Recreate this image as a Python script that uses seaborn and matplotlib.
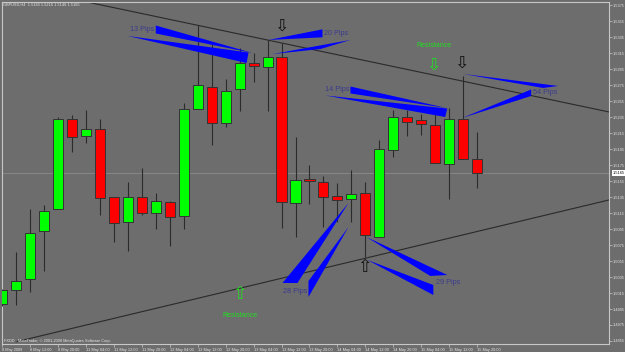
import matplotlib
matplotlib.use("Agg")
import matplotlib.pyplot as plt
import seaborn as sns
import numpy as np
import pandas as pd

# ---------------- data ----------------
opens = [1.5001, 1.5019, 1.5032, 1.5092, 1.5120, 1.5232, 1.5211, 1.5220, 1.5135, 1.5104,
         1.5135, 1.5115, 1.5129, 1.5111, 1.5245, 1.5273, 1.5227, 1.5270, 1.5302, 1.5297,
         1.5310, 1.5128, 1.5157, 1.5154, 1.5136, 1.5132, 1.5140, 1.5085, 1.5194, 1.5235,
         1.5231, 1.5225, 1.5176, 1.5233, 1.5183]
highs = [1.5020, 1.5066, 1.5120, 1.5125, 1.5235, 1.5237, 1.5244, 1.5233, 1.5135, 1.5154,
         1.5171, 1.5140, 1.5130, 1.5252, 1.5350, 1.5328, 1.5283, 1.5321, 1.5315, 1.5331,
         1.5328, 1.5210, 1.5175, 1.5161, 1.5153, 1.5169, 1.5154, 1.5206, 1.5244, 1.5244,
         1.5239, 1.5242, 1.5246, 1.5286, 1.5216]
lows = [1.4999, 1.5000, 1.5016, 1.5043, 1.5120, 1.5191, 1.5203, 1.5112, 1.5079, 1.5067,
        1.5113, 1.5095, 1.5074, 1.5095, 1.5245, 1.5200, 1.5223, 1.5243, 1.5279, 1.5242,
        1.5096, 1.5085, 1.5126, 1.5098, 1.5104, 1.5104, 1.5060, 1.5085, 1.5185, 1.5211,
        1.5212, 1.5177, 1.5132, 1.5182, 1.5146]
closes = [1.5019, 1.5030, 1.5090, 1.5118, 1.5233, 1.5210, 1.5220, 1.5134, 1.5103, 1.5135,
          1.5115, 1.5130, 1.5110, 1.5245, 1.5275, 1.5228, 1.5268, 1.5303, 1.5299, 1.5310,
          1.5129, 1.5156, 1.5155, 1.5135, 1.5131, 1.5139, 1.5087, 1.5195, 1.5235, 1.5229,
          1.5226, 1.5177, 1.5232, 1.5182, 1.5165]

time_labels = ["8 May 2009", "8 May 12:00", "8 May 20:00", "11 May 04:00", "11 May 12:00",
               "11 May 20:00", "12 May 04:00", "12 May 12:00", "12 May 20:00", "13 May 04:00",
               "13 May 12:00", "13 May 20:00", "14 May 04:00", "14 May 12:00", "14 May 20:00",
               "15 May 04:00", "15 May 12:00", "15 May 20:00"]
price_ticks = [1.4955, 1.4975, 1.4995, 1.5015, 1.5035, 1.5055, 1.5075, 1.5095, 1.5115, 1.5135,
               1.5155, 1.5175, 1.5195, 1.5215, 1.5235, 1.5255, 1.5275, 1.5295, 1.5315, 1.5335,
               1.5355, 1.5375]

# trend lines (bar index, price)
upper_line_x = [6.07, 43.43]
upper_line_y = [1.53788, 1.52413]
lower_line_x = [1.0, 43.43]
lower_line_y = [1.4954, 1.51313]

# triangle annotations (bar index, price)
wedges = {
    "13a": [(11.0, 1.53494), (11.0, 1.53394), (17.93, 1.53150)],
    "13b": [(9.0, 1.53363), (17.64, 1.53156), (17.5, 1.53025)],
    "20a": [(19.07, 1.53313), (22.93, 1.53446), (22.93, 1.53346)],
    "20b": [(19.36, 1.53137), (24.93, 1.53313), (22.79, 1.53200)],
    "14a": [(24.93, 1.52731), (24.93, 1.52644), (31.79, 1.52463)],
    "14b": [(23.14, 1.52619), (31.86, 1.52456), (31.71, 1.52350)],
    "54a": [(33.0, 1.52888), (39.79, 1.52738), (38.71, 1.52713)],
    "54b": [(32.93, 1.52338), (37.86, 1.52694), (37.86, 1.52613)],
    "28a": [(24.79, 1.51275), (20.07, 1.50275), (21.14, 1.50275)],
    "28b": [(24.79, 1.50975), (21.93, 1.50300), (21.93, 1.50100)],
    "29a": [(26.07, 1.50850), (31.86, 1.50375), (30.64, 1.50363)],
    "29b": [(26.14, 1.50563), (30.86, 1.50250), (30.86, 1.50125)],
}
pip_labels = ["13 Pips", "20 Pips", "14 Pips", "54 Pips", "28 Pips", "29 Pips"]
pip_x = [10.0, 23.93, 23.96, 38.86, 20.96, 31.89]
pip_y = [1.53450, 1.53400, 1.52688, 1.52659, 1.50175, 1.50279]

arrow_chars = ["\u21e9", "\u21e9", "\u21e7", "\u21e9", "\u21e7"]
arrow_x = [19.96, 32.89, 25.93, 30.89, 16.96]
arrow_y = [1.53494, 1.53031, 1.50469, 1.53006, 1.50138]
arrow_colors = ["#111111", "#111111", "#111111", "#22dd22", "#22dd22"]

resist_x = [30.93, 17.0]
resist_y = [1.53238, 1.49875]

# ---------------- style ----------------
BG = "#6d6d6d"
FG = "#e6e6e6"
sns.set_theme(style="ticks", rc={"axes.facecolor": BG, "figure.facecolor": BG})
plt.rcParams["font.family"] = ["Liberation Sans", "DejaVu Sans"]

fig = plt.figure(figsize=(6.25, 3.52), dpi=100)
ax = fig.add_axes([2 / 625, 8 / 352, 607 / 625, 342 / 352])
ax.set_facecolor(BG)

df = pd.DataFrame({"o": opens, "h": highs, "l": lows, "c": closes})
df["i"] = np.arange(len(df))
up = df["c"] >= df["o"]

# current price line
ax.axhline(closes[-1], color="#8c8c8c", lw=0.6, zorder=1)

# trend lines
sns.lineplot(x=upper_line_x, y=upper_line_y, ax=ax, color="#2a2a2a", lw=0.8, zorder=2)
sns.lineplot(x=lower_line_x, y=lower_line_y, ax=ax, color="#2a2a2a", lw=0.8, zorder=2)

# wicks
ax.vlines(df["i"], df["l"], df["h"], color="#2b2b2b", lw=0.8, zorder=3)
# bodies
bottoms = np.minimum(df["o"], df["c"])
heights = np.maximum(np.abs(df["c"] - df["o"]), 0.00008)
ax.bar(df["i"], heights, bottom=bottoms, width=0.72,
       color=np.where(up, "#00ff00", "#ff0000"), edgecolor="#333333", lw=0.7, zorder=4)

# wedges
for pts in wedges.values():
    xs = [p[0] for p in pts]
    ys = [p[1] for p in pts]
    ax.fill(xs, ys, color="#0000ff", lw=0, zorder=5)

for t, x, y in zip(pip_labels, pip_x, pip_y):
    ax.text(x, y, t, color="#3b3b8f", fontsize=5.2, ha="center", va="center", zorder=6)

for ch, x, y, c in zip(arrow_chars, arrow_x, arrow_y, arrow_colors):
    ax.text(x, y, ch, color=c, fontsize=12.5, ha="center", va="center",
            family=["DejaVu Sans"], zorder=6)

for x, y in zip(resist_x, resist_y):
    ax.text(x, y, "Resistance", color="#22dd22", fontsize=5, ha="center", va="center", zorder=6)

# axes
ax.set_xlim(0.07, 43.43)
ax.set_ylim(1.495125, 1.537875)
for s in ax.spines.values():
    s.set_color("#c8c8c8")
    s.set_linewidth(0.8)

ax.yaxis.tick_right()
ax.set_yticks(price_ticks)
ax.set_yticklabels([f"{p:.4f}" for p in price_ticks])
ax.set_xticks(np.arange(0, 2 * len(time_labels), 2))
ax.set_xticklabels(time_labels, ha="left")
ax.tick_params(axis="both", colors="#c8c8c8", labelcolor=FG, labelsize=2.8,
               length=2, width=0.5, pad=1)
ax.set_xlabel("")
ax.set_ylabel("")
ax.grid(False)

# current price tag
ax.text(1.006, closes[-1], f"{closes[-1]:.4f}", transform=ax.get_yaxis_transform(),
        fontsize=2.8, color="#000000", va="center", ha="left",
        bbox=dict(boxstyle="square,pad=0.25", fc="#ffffff", ec="none"), zorder=7,
        clip_on=False)

fig.text(3 / 625, 1 - 4.5 / 352,
         f"GBPUSD,H4  {opens[-1]:.4f} {highs[-1]:.4f} {lows[-1]:.4f} {closes[-1]:.4f}",
         color=FG, fontsize=2.8, ha="left", va="center")
fig.text(4 / 625, 1 - 341 / 352,
         "FXDD - MetaTrader, \u00a9 2001-2008 MetaQuotes Software Corp.",
         color=FG, fontsize=2.8, ha="left", va="center")

fig.savefig("out.png", dpi=100, facecolor=BG)
